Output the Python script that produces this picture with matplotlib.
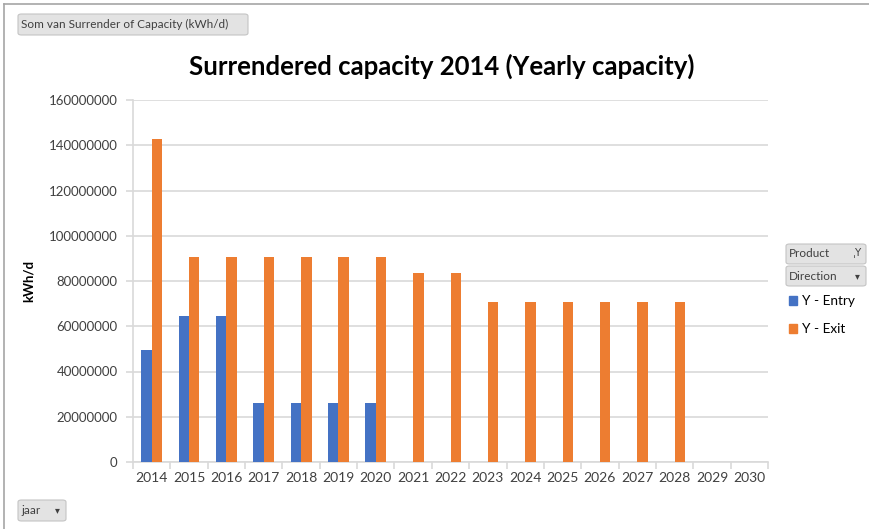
import numpy as np
import matplotlib.pyplot as plt
from matplotlib.patches import FancyBboxPatch, Rectangle
from matplotlib.lines import Line2D
from matplotlib.ticker import StrMethodFormatter, FixedLocator

plt.rcParams['font.family'] = ['Lato', 'DejaVu Sans']

# data
years = ['2014', '2015', '2016', '2017', '2018', '2019', '2020', '2021', '2022',
         '2023', '2024', '2025', '2026', '2027', '2028', '2029', '2030']
entry = [49700000, 64400000, 64400000, 25900000, 25900000, 25900000, 25900000,
         np.nan, np.nan, np.nan, np.nan, np.nan, np.nan, np.nan, np.nan, np.nan, np.nan]
exit_ = [142800000, 90600000, 90600000, 90600000, 90600000, 90600000, 90600000,
         83600000, 83600000, 70500000, 70500000, 70500000, 70500000, 70500000, 70500000,
         np.nan, np.nan]
series_names = ['Y - Entry', 'Y - Exit']
colors = ['#4472C4', '#ED7D31']

W, H = 869, 529
fig = plt.figure(figsize=(W / 100, H / 100), dpi=100)

def fx(px):
    return px / W

def fy(py):
    return 1 - py / H

ax = fig.add_axes([fx(133), fy(462), fx(768) - fx(133), fy(100) - fy(462)])

x = np.arange(len(years))
bw = 0.28
ax.bar(x - bw / 2, entry, bw, color=colors[0], zorder=3)
ax.bar(x + bw / 2, exit_, bw, color=colors[1], zorder=3)

ax.set_xlim(-0.5, len(years) - 0.5)
ax.set_ylim(0, 160000000)
ax.set_yticks(np.arange(0, 160000001, 20000000))
ax.yaxis.set_major_formatter(StrMethodFormatter('{x:.0f}'))
ax.set_xticks(x)
ax.set_xticklabels(years)
ax.xaxis.set_minor_locator(FixedLocator(np.arange(-0.5, len(years), 1.0)))

grid_c = '#d9d9d9'
ax.grid(axis='y', color=grid_c, linewidth=1.2, zorder=0)
for s in ['top', 'right']:
    ax.spines[s].set_visible(False)
ax.spines['left'].set_color(grid_c)
ax.spines['bottom'].set_color(grid_c)
ax.spines['left'].set_linewidth(1.2)
ax.spines['bottom'].set_linewidth(1.2)
ax.tick_params(axis='y', length=5, color=grid_c, width=1.2, labelsize=9.5,
               labelcolor='#404040', pad=6)
ax.tick_params(axis='x', which='major', length=0, labelsize=10, labelcolor='#404040', pad=7)
ax.tick_params(axis='x', which='minor', length=5, color=grid_c, width=1.2)
ax.set_ylabel('kWh/d', fontsize=9.5, fontweight='bold', labelpad=10)

fig.text(fx(442), fy(66), 'Surrendered capacity 2014 (Yearly capacity)',
         ha='center', va='center', fontsize=18.5, fontweight='bold')

# outer frame (top and left edge)
fig.add_artist(Line2D([fx(4), 1], [fy(4), fy(4)], color='#a6a6a6', lw=1.2))
fig.add_artist(Line2D([fx(4), fx(4)], [fy(4), 0], color='#a6a6a6', lw=1.2))

def button(x0, y0, x1, y1, label, arrow=False, size=7.5):
    fig.add_artist(FancyBboxPatch((fx(x0), fy(y1)), fx(x1 - x0), fy(y0) - fy(y1),
                                  boxstyle='round,pad=0,rounding_size=0.004',
                                  facecolor='#e3e3e3', edgecolor='#c4c4c4', lw=0.8,
                                  transform=fig.transFigure))
    fig.text(fx(x0 + 3), fy((y0 + y1) / 2), label, ha='left', va='center',
             fontsize=size, color='#404040')
    if arrow:
        fig.text(fx(x1 - 9), fy((y0 + y1) / 2), '\u25be', ha='center', va='center',
                 fontsize=7, color='#404040', family='DejaVu Sans')

button(18, 14, 248, 35, 'Som van Surrender of Capacity (kWh/d)', size=8.5)
button(18, 500, 66, 521, 'jaar', arrow=True, size=8.5)
button(786, 244, 866, 264, 'Product', size=8.5)
fig.text(fx(858), fy(253), '\u02ccY', ha='center', va='center', fontsize=7.5,
         color='#404040', family='DejaVu Sans')
button(786, 266, 866, 286, 'Direction', arrow=True, size=8.5)

handles = [Rectangle((0, 0), 1, 1, color=c) for c in colors]
fig.legend(handles, series_names, loc='upper left',
           bbox_to_anchor=(fx(789), fy(295)), frameon=False, fontsize=9.8,
           handlelength=0.6, handleheight=0.6, handletextpad=0.35,
           labelspacing=1.2, borderaxespad=0, borderpad=0)

fig.savefig('out.png', dpi=100)
